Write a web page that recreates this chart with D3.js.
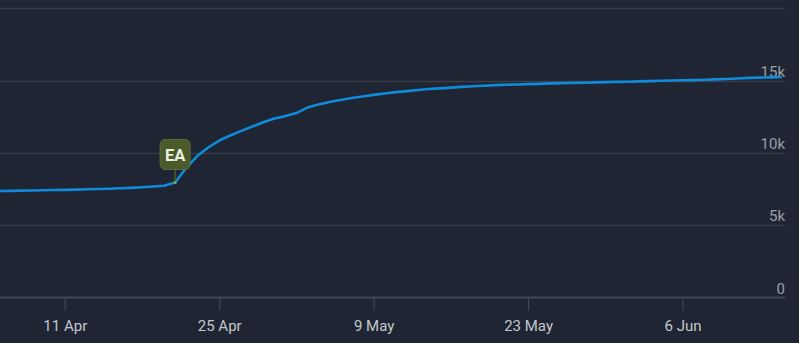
<!DOCTYPE html>
<html>
<head>
<meta charset="utf-8">
<script src="https://cdn.jsdelivr.net/npm/d3@7"></script>
<style>
  body { margin: 0; background: #1f2532; }
  svg { display: block; font-family: Roboto, "Noto Sans", sans-serif; }
</style>
</head>
<body>
<svg id="chart" width="799" height="343"></svg>
<script>
// daily values, 5 Apr .. 15 Jun (thousands)
var startDate = "2024-04-05"
var values = [
  7.36, 7.37, 7.39, 7.40, 7.41, 7.43, 7.44, 7.46, 7.48, 7.50,
  7.52, 7.55, 7.58, 7.62, 7.67, 7.73, 7.95, 8.95, 9.78, 10.37,
  10.85, 11.20, 11.52, 11.82, 12.11, 12.37, 12.54, 12.75, 13.13, 13.34,
  13.51, 13.65, 13.79, 13.90, 14.01, 14.10, 14.20, 14.27, 14.34, 14.41,
  14.46, 14.51, 14.56, 14.60, 14.64, 14.68, 14.71, 14.73, 14.75, 14.77,
  14.80, 14.82, 14.84, 14.85, 14.87, 14.89, 14.91, 14.92, 14.94, 14.96,
  14.98, 15.00, 15.02, 15.03, 15.05, 15.08, 15.11, 15.14, 15.18, 15.20,
  15.22, 15.24
]
var yTicks = [0, 5000, 10000, 15000, 20000]
var xTicks = ["2024-04-11", "2024-04-25", "2024-05-09", "2024-05-23", "2024-06-06"]
var events = [{ date: "2024-04-21", label: "EA" }]

var parse = d3.timeParse("%Y-%m-%d")
var t0 = parse(startDate)
var data = values.map(function(v, i) {
  return { date: d3.timeDay.offset(t0, i), value: v * 1000 }
})

var svg = d3.select("#chart"),
    plotRight = 785,
    plotTop = 8.2,
    plotBottom = 297.5

var x = d3.scaleTime()
  .domain([new Date(2024, 3, 5, 3), new Date(2024, 5, 15, 7)])
  .range([0, plotRight])
var y = d3.scaleLinear().domain([0, 20000]).range([plotBottom, plotTop])

// gridlines
svg.append("g").selectAll("line")
  .data(yTicks.filter(function(d) { return d > 0 }))
  .enter().append("line")
  .attr("x1", 0).attr("x2", plotRight)
  .attr("y1", function(d) { return Math.round(y(d)) + 0.5 })
  .attr("y2", function(d) { return Math.round(y(d)) + 0.5 })
  .attr("stroke", "#393e4a")
  .attr("stroke-width", 1.5)

// y labels
svg.append("g").selectAll("text")
  .data(yTicks.filter(function(d) { return d < 20000 }))
  .enter().append("text")
  .attr("x", plotRight)
  .attr("y", function(d) { return y(d) - 4 })
  .attr("text-anchor", "end")
  .attr("fill", "#9aa0a9")
  .style("font-size", "15px")
  .text(function(d) { return d === 0 ? "0" : d / 1000 + "k" })

// x axis
var xAxis = d3.axisBottom(x)
  .tickValues(xTicks.map(parse))
  .tickFormat(d3.timeFormat("%-d %b"))
  .tickSize(13)
  .tickPadding(10)

var gx = svg.append("g")
  .attr("transform", "translate(0," + plotBottom + ")")
  .call(xAxis)
gx.select(".domain").remove()
gx.selectAll(".tick line").attr("stroke", "#3b4658").attr("stroke-width", 1.3)
gx.selectAll(".tick text")
  .attr("fill", "#c4c8ce")
  .style("font-size", "15px")
  .style("font-family", "Roboto, sans-serif")

svg.append("line")
  .attr("x1", 0).attr("x2", plotRight)
  .attr("y1", plotBottom).attr("y2", plotBottom)
  .attr("stroke", "#3b4658")
  .attr("stroke-width", 2)

// the line
var line = d3.line()
  .x(function(d) { return x(d.date) })
  .y(function(d) { return y(d.value) })

svg.append("clipPath").attr("id", "clip")
  .append("rect").attr("x", 0).attr("y", 0).attr("width", plotRight).attr("height", plotBottom)

svg.append("path")
  .datum(data)
  .attr("clip-path", "url(#clip)")
  .attr("fill", "none")
  .attr("stroke", "#0f8bdb")
  .attr("stroke-width", 2.6)
  .attr("stroke-linejoin", "round")
  .attr("d", line)

// event marker
events.forEach(function(ev) {
  var d = parse(ev.date)
  var pt = data.find(function(p) { return +p.date === +d })
  var cx = x(d), cy = y(pt.value)
  var g = svg.append("g")
  g.append("line")
    .attr("x1", cx).attr("x2", cx)
    .attr("y1", cy - 29).attr("y2", cy)
    .attr("stroke", "#4d5c2c").attr("stroke-width", 1.5)
  g.append("rect")
    .attr("x", cx - 15).attr("y", cy - 43)
    .attr("width", 30).attr("height", 30)
    .attr("rx", 5)
    .attr("fill", "#4a5a2b")
    .attr("stroke", "#5c6c35")
    .attr("stroke-width", 1)
  g.append("text")
    .attr("x", cx).attr("y", cy - 22)
    .attr("text-anchor", "middle")
    .attr("fill", "#eceee2")
    .style("font-size", "16.5px")
    .style("font-weight", "bold")
    .text(ev.label)
  g.append("circle")
    .attr("cx", cx).attr("cy", cy).attr("r", 1.5)
    .attr("fill", "#6fae4a")
})
</script>
</body>
</html>
